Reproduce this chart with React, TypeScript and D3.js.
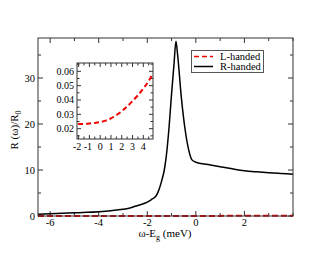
import React from "react";
import * as d3 from "d3";

const rX = [-6.5, -6, -5.5, -5, -4.5, -4, -3.5, -3, -2.75, -2.5, -2.25, -2, -1.8, -1.65, -1.55, -1.4, -1.3, -1.22, -1.1, -1.01, -0.9, -0.82, -0.75, -0.6, -0.44, -0.3, -0.16, 0, 0.5, 1, 1.5, 2, 2.5, 3, 3.5, 4];
const rY = [0.4, 0.5, 0.6, 0.7, 0.8, 0.95, 1.15, 1.45, 1.7, 2.1, 2.5, 3.0, 3.7, 4.3, 5.3, 7.8, 10, 12.9, 19.5, 25.9, 33, 38, 35, 25.9, 18.7, 14.5, 12.2, 11.7, 11.2, 10.7, 10.25, 9.85, 9.6, 9.4, 9.25, 9.1];
const lX = [-6.5, -5, -4, -3, -2.2, -2, -1.5, -1, -0.5, 0, 0.5, 1, 1.5, 2, 2.5, 3, 3.5, 4, 4.5, 4.9];
const lY = [0.0232, 0.0232, 0.0232, 0.0232, 0.0232, 0.0232, 0.0233, 0.0236, 0.024, 0.0246, 0.0256, 0.0272, 0.0294, 0.0322, 0.0355, 0.0392, 0.0433, 0.048, 0.0532, 0.0586];
const mainXTicks = [-6, -4, -2, 0, 2];
const mainYTicks = [0, 10, 20, 30];
const insetXTicks = [-2, -1, 0, 1, 2, 3, 4];
const insetYTicks = [0.02, 0.03, 0.04, 0.05, 0.06];
const legendLabels = ["L-handed", "R-handed"];

const FONT = "'Liberation Serif', serif";

export default function App() {
  const L = 38, R = 293, T = 38, B = 216;
  const x = d3.scaleLinear().domain([-6.5, 4]).range([L, R]);
  const y = d3.scaleLinear().domain([0, 38.7]).range([B, T]);
  const iL = 77, iR = 153, iT = 63, iB = 139;
  const ix = d3.scaleLinear().domain([-2.15, 4.9]).range([iL, iR]);
  const iy = d3.scaleLinear().domain([0.0128, 0.0658]).range([iB, iT]);

  const rData = rX.map((v, i) => [v, rY[i]] as [number, number]);
  const lData = lX.map((v, i) => [v, lY[i]] as [number, number]);
  const line = d3.line<[number, number]>().x(d => x(d[0])).y(d => y(d[1])).curve(d3.curveMonotoneX);
  const iline = d3.line<[number, number]>().x(d => ix(d[0])).y(d => iy(d[1])).curve(d3.curveMonotoneX);

  const xMinor = d3.range(-6, 4.01, 1);
  const yMinor = d3.range(0, 38.1, 5);
  const ixMinor = d3.range(-2, 4.9, 0.5);
  const iyMinor = d3.range(0.015, 0.0656, 0.005);

  const ax = "#333";
  return (
    <svg width={330} height={255} style={{ position: "absolute", left: 0, top: 0 }} fontFamily={FONT}>
      <rect width={330} height={255} fill="white" />
      <defs>
        <clipPath id="mc"><rect x={L} y={T - 2} width={R - L} height={B - T + 4} /></clipPath>
        <clipPath id="ic"><rect x={iL} y={iT} width={iR - iL} height={iB - iT} /></clipPath>
      </defs>
      {xMinor.map(v => {
        const major = mainXTicks.includes(v);
        const len = major ? 5 : 3;
        return <g key={"xm" + v} stroke={ax}>
          <line x1={x(v)} x2={x(v)} y1={B} y2={B - len} />
          <line x1={x(v)} x2={x(v)} y1={T} y2={T + len} />
        </g>;
      })}
      {yMinor.map(v => {
        const major = mainYTicks.includes(v);
        const len = major ? 5 : 3;
        return <g key={"ym" + v} stroke={ax}>
          <line x1={L} x2={L + len} y1={y(v)} y2={y(v)} />
          <line x1={R} x2={R - len} y1={y(v)} y2={y(v)} />
        </g>;
      })}
      {mainXTicks.map(v => (
        <text key={"xl" + v} x={x(v)} y={226} fontSize={10.5} textAnchor="middle">{v < 0 ? "-" + Math.abs(v) : v}</text>
      ))}
      {mainYTicks.map(v => (
        <text key={"yl" + v} x={35} y={y(v) + 3.5} fontSize={10.5} textAnchor="end">{v}</text>
      ))}
      <g clipPath="url(#mc)">
        <path d={line(lData) || ""} fill="none" stroke="#e00" strokeWidth={2} strokeDasharray="6,3" />
        <path d={line(rData) || ""} fill="none" stroke="black" strokeWidth={1.5} />
      </g>
      <rect x={L} y={T} width={R - L} height={B - T} fill="none" stroke={ax} />
      <text x={165} y={237} fontSize={11} textAnchor="middle">ω-E<tspan fontSize={8} dy={2.5}>g</tspan><tspan dy={-2.5}> (meV)</tspan></text>
      <text transform={`translate(18,130) rotate(-90)`} fontSize={11} textAnchor="middle">R (ω)/R<tspan fontSize={8} dy={2.5}>0</tspan></text>

      <rect x={iL} y={iT} width={iR - iL} height={iB - iT} fill="white" />
      {ixMinor.map(v => {
        const major = Math.abs(v - Math.round(v)) < 1e-6;
        const len = major ? 4 : 2.5;
        return <g key={"ixm" + v} stroke={ax}>
          <line x1={ix(v)} x2={ix(v)} y1={iB} y2={iB - len} />
          <line x1={ix(v)} x2={ix(v)} y1={iT} y2={iT + len} />
        </g>;
      })}
      {iyMinor.map(v => {
        const major = insetYTicks.some(t => Math.abs(t - v) < 1e-6);
        const len = major ? 4 : 2.5;
        return <g key={"iym" + v} stroke={ax}>
          <line x1={iL} x2={iL + len} y1={iy(v)} y2={iy(v)} />
          <line x1={iR} x2={iR - len} y1={iy(v)} y2={iy(v)} />
        </g>;
      })}
      {insetXTicks.map(v => (
        <text key={"ixl" + v} x={ix(v) - (v < 0 ? 1.5 : 0)} y={150} fontSize={10} textAnchor="middle">{v < 0 ? "-" + Math.abs(v) : v}</text>
      ))}
      {insetYTicks.map(v => (
        <text key={"iyl" + v} x={74} y={iy(v) + 3.5} fontSize={10} textAnchor="end">{v.toFixed(2)}</text>
      ))}
      <g clipPath="url(#ic)">
        <path d={iline(lData) || ""} fill="none" stroke="#e00" strokeWidth={2} strokeDasharray="5,3" />
      </g>
      <rect x={iL} y={iT} width={iR - iL} height={iB - iT} fill="none" stroke={ax} />

      <rect x={191.5} y={50.5} width={72} height={22} fill="white" stroke="#555" />
      <line x1={194} x2={213} y1={56.5} y2={56.5} stroke="#e00" strokeWidth={1.5} strokeDasharray="5,3" />
      <line x1={194} x2={213} y1={66.5} y2={66.5} stroke="black" strokeWidth={1.5} />
      {legendLabels.map((t, i) => (
        <text key={t} x={220} y={60 + i * 10} fontSize={10.5}>{t}</text>
      ))}
    </svg>
  );
}
